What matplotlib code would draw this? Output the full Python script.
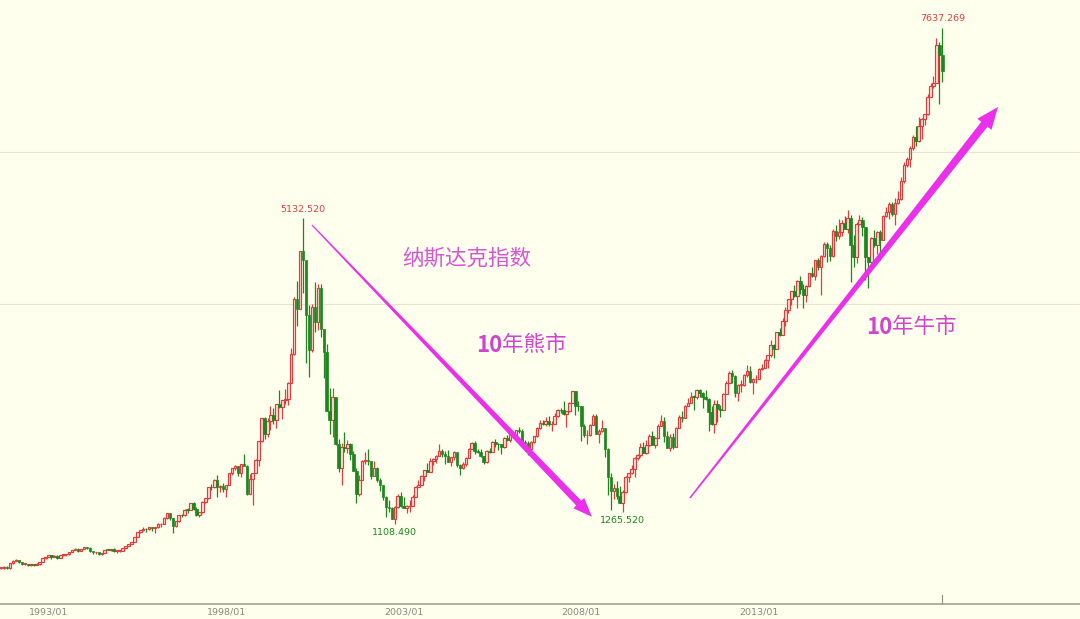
import numpy as np
import matplotlib.pyplot as plt
from matplotlib.patches import Polygon
from matplotlib.transforms import IdentityTransform

plt.rcParams['font.family'] = ['DejaVu Sans']

# monthly Nasdaq composite, first candle = 1991/07
start_year, start_month = 1991, 7
first_open = 475.9

close_px = [
    502.0, 525.7, 526.9, 542.9, 523.9, 586.3,  # 1991 (Jul-Dec)
    620.2, 633.5, 603.8, 578.7, 585.3, 563.6, 580.8, 563.1, 583.3, 605.2, 652.7, 677.0,  # 1992
    696.3, 670.8, 690.1, 661.4, 700.5, 704.0, 704.7, 742.8, 763.0, 779.3, 754.4, 776.8,  # 1993
    800.5, 792.5, 743.5, 733.8, 735.2, 706.0, 722.2, 765.6, 764.3, 777.5, 750.3, 752.0,  # 1994
    755.2, 793.7, 817.2, 844.0, 864.6, 933.5, 1001.2, 1020.1, 1043.5, 1036.1, 1059.2, 1052.1,  # 1995
    1059.8, 1100.1, 1101.4, 1190.5, 1243.4, 1185.0, 1080.6, 1141.5, 1226.9, 1221.5, 1292.6, 1291.0,  # 1996
    1379.9, 1309.0, 1221.7, 1260.8, 1400.3, 1442.1, 1593.8, 1587.3, 1685.7, 1593.6, 1600.6, 1570.4,  # 1997
    1619.4, 1770.5, 1835.7, 1868.4, 1778.9, 1894.7, 1872.4, 1499.3, 1693.8, 1771.4, 1949.5, 2192.7,  # 1998
    2505.9, 2288.0, 2461.4, 2542.9, 2470.5, 2686.1, 2638.5, 2739.4, 2746.2, 2966.4, 3336.2, 4069.3,  # 1999
    3940.4, 4696.7, 4572.8, 3860.7, 3400.9, 3966.1, 3767.0, 4206.4, 3672.8, 3369.6, 2597.9, 2470.5,  # 2000
    2772.7, 2151.8, 1840.3, 2116.2, 2110.5, 2160.5, 2027.1, 1805.4, 1498.8, 1690.2, 1930.6, 1950.4,  # 2001
    1934.0, 1731.5, 1845.4, 1688.2, 1615.7, 1463.2, 1328.3, 1314.9, 1172.1, 1329.8, 1478.8, 1335.5,  # 2002
    1320.9, 1337.5, 1341.2, 1464.3, 1595.9, 1622.8, 1735.0, 1810.5, 1786.9, 1932.2, 1960.3, 2003.4,  # 2003
    2066.2, 2029.8, 1994.2, 1920.2, 1986.7, 2047.8, 1887.4, 1838.1, 1896.8, 1975.0, 2096.8, 2175.4,  # 2004
    2062.4, 2051.7, 1999.2, 1921.7, 2068.2, 2057.0, 2184.8, 2152.1, 2151.7, 2120.3, 2232.8, 2205.3,  # 2005
    2305.8, 2281.4, 2339.8, 2322.6, 2178.9, 2172.1, 2091.5, 2183.8, 2258.4, 2366.7, 2431.8, 2415.3,  # 2006
    2463.9, 2416.2, 2421.6, 2525.1, 2604.5, 2603.2, 2546.3, 2596.4, 2701.5, 2859.1, 2661.0, 2652.3,  # 2007
    2389.9, 2271.5, 2279.1, 2412.8, 2522.7, 2293.0, 2325.6, 2367.5, 2091.9, 1721.0, 1535.6, 1577.0,  # 2008
    1476.4, 1377.8, 1528.6, 1717.3, 1774.3, 1835.0, 1978.5, 2009.1, 2122.4, 2045.1, 2144.6, 2269.2,  # 2009
    2147.4, 2238.3, 2398.0, 2461.2, 2257.0, 2109.2, 2254.7, 2114.0, 2368.6, 2507.4, 2498.2, 2652.9,  # 2010
    2700.1, 2782.3, 2781.1, 2873.5, 2835.3, 2773.5, 2756.4, 2579.5, 2415.4, 2684.4, 2620.3, 2605.2,  # 2011
    2813.8, 2966.9, 3091.6, 3046.4, 2827.3, 2935.1, 2939.5, 3067.0, 3116.2, 2977.2, 3010.2, 3019.5,  # 2012
    3142.1, 3160.2, 3267.5, 3328.8, 3455.9, 3403.3, 3626.4, 3589.9, 3771.5, 3919.7, 4059.9, 4176.6,  # 2013
    4103.9, 4308.1, 4199.0, 4114.6, 4242.6, 4408.2, 4370.0, 4580.3, 4493.4, 4630.7, 4791.6, 4736.1,  # 2014
    4635.2, 4963.5, 4900.9, 4941.4, 5070.0, 4986.9, 5128.3, 4776.5, 4620.2, 5053.8, 5108.7, 5007.4,  # 2015
    4614.0, 4558.0, 4869.8, 4775.4, 4948.1, 4843.0, 5162.1, 5213.2, 5312.0, 5189.1, 5323.7, 5383.1,  # 2016
    5614.8, 5825.4, 5911.7, 6047.6, 6198.5, 6140.4, 6348.1, 6428.7, 6496.0, 6727.7, 6874.0, 6903.4,  # 2017
    7411.5, 7273.0, 7063.4,  # 2018
]

high_px = [
    503.0, 526.0, 532.0, 547.0, 548.0, 586.3,
    626.0, 645.0, 634.0, 606.0, 592.0, 585.0, 581.0, 583.0, 591.0, 606.0, 653.0, 677.0,
    702.0, 700.0, 698.0, 692.0, 702.0, 706.0, 712.0, 743.0, 763.0, 787.0, 783.0, 778.0,
    801.0, 803.0, 804.0, 746.0, 740.0, 741.0, 724.0, 766.0, 775.0, 780.0, 788.0, 757.0,
    766.0, 794.0, 820.0, 845.0, 867.0, 934.0, 1005.0, 1024.0, 1067.0, 1050.0, 1070.0, 1070.0,
    1062.0, 1115.0, 1112.0, 1191.0, 1249.0, 1245.0, 1187.0, 1150.0, 1229.0, 1239.0, 1300.0, 1316.0,
    1380.0, 1391.0, 1327.0, 1262.0, 1405.0, 1450.0, 1595.0, 1628.0, 1696.0, 1745.0, 1620.0, 1640.0,
    1624.0, 1771.0, 1842.0, 1886.0, 1874.0, 1899.0, 2028.0, 1879.0, 1758.0, 1781.0, 1961.0, 2200.0,
    2506.0, 2519.0, 2503.0, 2652.0, 2627.0, 2687.0, 2864.0, 2740.0, 2887.0, 2975.0, 3420.0, 4090.0,
    4303.0, 4697.0, 5132.52, 4560.0, 3983.0, 4000.0, 4289.0, 4259.0, 4260.0, 3674.0, 3478.0, 2890.0,
    2892.0, 2768.0, 2221.0, 2175.0, 2313.0, 2208.0, 2173.0, 2070.0, 1844.0, 1745.0, 1942.0, 2059.0,
    2098.0, 1938.0, 1928.0, 1854.0, 1707.0, 1622.0, 1469.0, 1426.0, 1334.0, 1342.0, 1494.0, 1521.0,
    1467.0, 1357.0, 1425.0, 1484.0, 1599.0, 1686.0, 1754.0, 1812.0, 1906.0, 1980.0, 1980.0, 2010.0,
    2153.8, 2087.0, 2060.0, 2081.0, 1991.0, 2064.0, 2050.0, 1891.0, 1925.0, 1993.0, 2111.0, 2180.0,
    2192.0, 2096.0, 2097.0, 2006.0, 2076.0, 2109.0, 2198.0, 2219.0, 2177.0, 2156.0, 2247.0, 2278.0,
    2332.0, 2313.0, 2341.0, 2375.5, 2357.0, 2210.0, 2200.0, 2193.0, 2269.0, 2377.0, 2468.0, 2469.0,
    2509.0, 2531.0, 2457.0, 2561.0, 2613.0, 2634.0, 2724.0, 2598.0, 2717.0, 2861.5, 2856.0, 2724.0,
    2661.0, 2419.0, 2337.0, 2425.0, 2551.5, 2549.0, 2349.0, 2473.0, 2372.0, 2108.0, 1782.0, 1636.0,
    1667.0, 1599.0, 1552.0, 1739.0, 1775.0, 1878.0, 1983.0, 2024.0, 2168.0, 2190.0, 2204.0, 2295.0,
    2326.0, 2245.0, 2415.0, 2535.0, 2511.0, 2331.0, 2290.0, 2306.0, 2380.0, 2533.0, 2592.0, 2675.0,
    2766.0, 2840.0, 2798.0, 2887.8, 2885.0, 2838.0, 2873.0, 2767.0, 2657.0, 2739.0, 2736.0, 2665.0,
    2832.0, 2992.0, 3117.0, 3134.2, 3070.0, 2943.0, 2999.0, 3085.0, 3196.9, 3183.0, 3021.0, 3065.0,
    3154.0, 3213.0, 3271.0, 3330.0, 3532.0, 3477.0, 3629.0, 3685.0, 3817.0, 3958.0, 4069.0, 4177.0,
    4246.0, 4317.0, 4371.7, 4269.0, 4247.0, 4409.0, 4486.0, 4580.5, 4610.6, 4641.0, 4810.0, 4814.9,
    4777.0, 4984.0, 5042.0, 5119.0, 5107.0, 5164.0, 5231.9, 5176.0, 4903.0, 5085.0, 5176.8, 5151.0,
    5005.0, 4621.0, 4886.0, 4969.0, 4965.0, 4979.0, 5176.0, 5271.4, 5342.9, 5340.0, 5400.0, 5487.4,
    5669.6, 5867.0, 5928.1, 6075.0, 6217.7, 6341.7, 6460.8, 6447.0, 6506.0, 6759.0, 6914.2, 7003.9,
    7505.8, 7441.9, 7637.269,
]

low_px = [
    474.0, 486.0, 516.0, 518.0, 518.0, 515.0,
    583.0, 615.0, 597.0, 565.0, 571.0, 547.0, 554.0, 558.0, 562.0, 567.0, 603.0, 651.0,
    670.0, 645.0, 668.0, 645.0, 658.0, 688.0, 687.0, 702.0, 737.0, 758.0, 735.0, 746.0,
    771.0, 779.0, 733.0, 705.0, 714.0, 702.0, 703.0, 719.0, 758.0, 752.0, 741.0, 729.0,
    743.0, 755.0, 792.0, 816.0, 838.0, 864.0, 932.0, 990.0, 1016.0, 995.0, 1020.0, 1010.0,
    988.0, 1055.0, 1060.0, 1100.0, 1176.0, 1152.0, 992.0, 1072.0, 1129.0, 1195.0, 1214.0, 1255.0,
    1285.0, 1285.0, 1210.0, 1201.0, 1255.0, 1385.0, 1438.0, 1551.0, 1576.0, 1465.0, 1525.0, 1523.0,
    1465.0, 1614.0, 1752.0, 1815.0, 1736.0, 1727.0, 1870.0, 1483.0, 1496.0, 1357.0, 1770.0, 1862.0,
    2180.0, 2230.0, 2250.0, 2345.0, 2424.0, 2373.0, 2630.0, 2490.0, 2680.0, 2674.0, 2960.0, 3335.0,
    3711.0, 3950.0, 4139.0, 3227.0, 3042.7, 3363.0, 3634.0, 3660.0, 3569.0, 3026.0, 2596.0, 2288.0,
    2251.0, 2150.0, 1794.0, 1619.0, 2050.0, 2039.0, 1953.0, 1802.0, 1387.1, 1479.0, 1689.0, 1900.0,
    1877.0, 1696.0, 1733.0, 1660.0, 1545.0, 1420.0, 1192.0, 1269.0, 1170.0, 1108.49, 1320.0, 1327.0,
    1316.0, 1253.0, 1267.0, 1336.0, 1456.0, 1596.0, 1637.0, 1677.0, 1784.0, 1808.0, 1888.0, 1911.0,
    2003.0, 1993.0, 1897.0, 1917.0, 1865.0, 1951.0, 1857.0, 1750.8, 1823.0, 1873.0, 1969.0, 2086.0,
    2030.0, 2035.0, 1990.0, 1889.8, 1903.0, 2041.0, 2052.0, 2118.0, 2085.0, 2025.0, 2111.0, 2200.0,
    2189.0, 2240.0, 2250.0, 2305.0, 2146.0, 2065.0, 2012.8, 2049.0, 2171.0, 2245.0, 2357.0, 2405.0,
    2394.0, 2395.0, 2331.0, 2417.0, 2518.0, 2563.0, 2539.0, 2386.7, 2583.0, 2703.0, 2539.0, 2588.0,
    2202.5, 2252.0, 2155.4, 2266.0, 2411.0, 2289.0, 2167.0, 2314.0, 1983.7, 1493.3, 1295.5, 1435.0,
    1434.0, 1376.0, 1265.52, 1507.0, 1653.0, 1767.0, 1727.0, 1946.0, 1985.0, 2040.0, 2031.0, 2137.0,
    2145.0, 2100.0, 2239.0, 2392.0, 2185.0, 2108.0, 2061.1, 2098.0, 2116.0, 2369.0, 2453.0, 2506.0,
    2662.0, 2701.0, 2603.5, 2752.0, 2773.0, 2629.7, 2743.0, 2331.0, 2404.0, 2298.9, 2441.0, 2519.0,
    2634.0, 2811.0, 2958.0, 2961.0, 2782.0, 2726.7, 2837.0, 2924.0, 3039.0, 2965.0, 2810.8, 2962.0,
    3058.0, 3125.0, 3163.0, 3154.0, 3306.0, 3294.0, 3407.0, 3581.0, 3588.0, 3706.0, 3881.0, 3989.0,
    4086.0, 3946.0, 4136.0, 3946.0, 4021.0, 4224.0, 4351.0, 4321.0, 4449.0, 4117.0, 4618.0, 4547.0,
    4563.0, 4617.0, 4825.0, 4858.0, 4900.0, 4982.0, 4935.0, 4292.1, 4487.0, 4542.0, 5043.0, 4899.0,
    4313.4, 4209.8, 4543.0, 4745.0, 4657.0, 4574.0, 4843.0, 5145.0, 5124.0, 5160.0, 5034.4, 5312.0,
    5371.0, 5598.0, 5805.0, 5805.0, 6032.0, 6078.0, 6129.0, 6177.0, 6357.0, 6490.0, 6723.0, 6839.0,
    6924.0, 6630.7, 6917.0,
]

tick_labels = ['1993/01', '1998/01', '2003/01', '2008/01', '2013/01']
grid_levels = [4000, 6000]


def month_index(label):
    y, m = label.split('/')
    return (int(y) - start_year) * 12 + int(m) - start_month


close_px = np.array(close_px)
high_px = np.array(high_px)
low_px = np.array(low_px)
open_px = np.concatenate([[first_open], close_px[:-1]])
idx = np.arange(len(close_px))
up = close_px >= open_px

red = '#e03c3c'
green = '#1d861d'
magenta = '#ea30ea'
bg = '#ffffee'

fig = plt.figure(figsize=(10.8, 6.19), dpi=100, facecolor=bg)
ax = fig.add_axes([0, 15 / 619, 1, 604 / 619])
ax.set_facecolor(bg)

for lv in grid_levels:
    ax.axhline(lv, color='#e8e4d0', lw=0.8, zorder=0)

# wicks then bodies
ax.vlines(idx[up], low_px[up], high_px[up], color=red, lw=0.9, zorder=2)
ax.vlines(idx[~up], low_px[~up], high_px[~up], color=green, lw=0.9, zorder=2)
body_lo = np.minimum(open_px, close_px)
body_h = np.maximum(np.abs(close_px - open_px), 8)
ax.bar(idx[up], body_h[up], bottom=body_lo[up], width=0.85,
       facecolor='#fbe0d8', edgecolor=red, lw=0.85, zorder=3)
ax.bar(idx[~up], body_h[~up], bottom=body_lo[~up], width=0.85,
       facecolor=green, edgecolor=green, lw=0.5, zorder=3)

ax.set_xlim(1.615, 366.5)
ax.set_ylim(52.6, 8000)

for s in ['top', 'right', 'left']:
    ax.spines[s].set_visible(False)
ax.spines['bottom'].set_color('#a3a394')
ax.spines['bottom'].set_linewidth(1.2)
ax.set_yticks([])
ax.set_xticks([month_index(t) for t in tick_labels])
ax.set_xticklabels(tick_labels, color='#8a8a7c', fontsize=6.8)
ax.tick_params(axis='x', length=0, pad=2.5)

# cursor tick at the last candle
ax.plot([idx[-1], idx[-1]], [0, 0.015], transform=ax.get_xaxis_transform(),
        color='#8c8c80', lw=0.8, clip_on=False)

# value labels
i_last_max = len(high_px) - 1
w1 = slice(month_index('2001/01'), month_index('2004/12'))
w2 = slice(month_index('2007/01'), month_index('2010/12'))
i_low1 = w1.start + int(np.argmin(low_px[w1]))
i_low2 = w2.start + int(np.argmin(low_px[w2]))
i_top1 = int(np.argmax(high_px[:month_index('2005/01')]))

ax.annotate(f'{high_px[i_top1]:.3f}', (i_top1, high_px[i_top1]), xytext=(0, 3),
            textcoords='offset points', ha='center', va='bottom', color=red, fontsize=6.8)
ax.annotate(f'{high_px[i_last_max]:.3f}', (i_last_max, high_px[i_last_max]), xytext=(0, 3),
            textcoords='offset points', ha='center', va='bottom', color=red, fontsize=6.8)
for i in [i_low1, i_low2]:
    ax.annotate(f'{low_px[i]:.3f}', (i, low_px[i]), xytext=(0, -3.3),
                textcoords='offset points', ha='center', va='top', color=green, fontsize=6.8)


def tapered_arrow(p0, p1, w0, w1, hw, hl):
    a = np.array(ax.transData.transform(p0))
    b = np.array(ax.transData.transform(p1))
    d = (b - a) / np.hypot(*(b - a))
    n = np.array([-d[1], d[0]])
    base = b - d * hl
    pts = [a + n * w0 / 2, base + n * w1 / 2, base + n * hw / 2, b,
           base - n * hw / 2, base - n * w1 / 2, a - n * w0 / 2]
    fig.add_artist(Polygon(pts, closed=True, transform=IdentityTransform(),
                           facecolor=magenta, edgecolor='none', zorder=5))


# arrows: (month index, index value)
bear_arrow = [(107.0, 5040), (201.6, 1200)]
bull_arrow = [(234.7, 1447), (338.8, 6592)]
tapered_arrow(bear_arrow[0], bear_arrow[1], 1.2, 7, 15, 19)
tapered_arrow(bull_arrow[0], bull_arrow[1], 1.5, 8, 18, 22)

cjk = ['Noto Sans CJK SC', 'DejaVu Sans']
txt_col = '#d044d0'
fig.text(467 / 1080, 1 - 259 / 619, '纳斯达克指数', family=cjk, fontsize=15.5,
         color='#d456d4', ha='center', va='center')
for x0, y0, word in [(502, 345, '年熊市'), (892, 327, '年牛市')]:
    fig.text(x0 / 1080, 1 - y0 / 619, '10', family=cjk, fontsize=16, fontweight='bold',
             color=txt_col, ha='right', va='center')
    fig.text(x0 / 1080, 1 - y0 / 619, word, family=cjk, fontsize=15.5,
             color=txt_col, ha='left', va='center')

fig.savefig('out.png', dpi=100, facecolor=bg)
